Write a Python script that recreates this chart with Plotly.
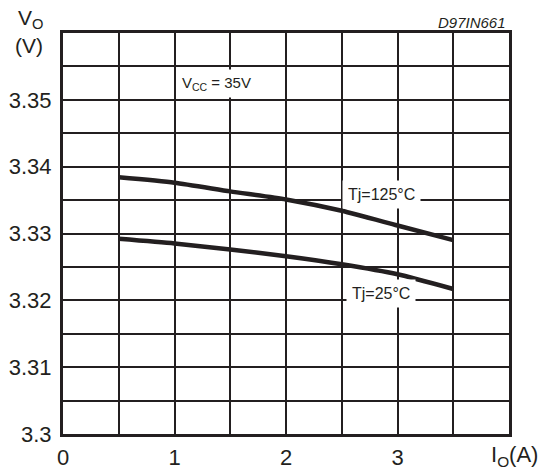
import plotly.graph_objects as go

# Data
io_a = [0.5, 1.0, 1.5, 2.0, 2.5, 3.0, 3.5]
vo_125 = [3.3384, 3.3376, 3.3363, 3.3351, 3.3334, 3.3312, 3.3290]
vo_25 = [3.3292, 3.3285, 3.3276, 3.3266, 3.3254, 3.3239, 3.3217]

x_grid = [0, 0.5, 1, 1.5, 2, 2.5, 3, 3.5, 4]
x_text = ["0", "", "1", "", "2", "", "3", "", ""]
y_grid = [3.300, 3.305, 3.310, 3.315, 3.320, 3.325, 3.330, 3.335, 3.340, 3.345, 3.350, 3.355, 3.360]
y_text = ["3.3", "", "3.31", "", "3.32", "", "3.33", "", "3.34", "", "3.35", "", ""]

INK = "#231f20"
FONT = "Liberation Sans, Arial, sans-serif"

L, R, T, B = 63, 35, 33, 40
PW, PH = 544 - L - R, 474 - T - B


def px(xp):
    return (xp - L) / PW


def py(yp):
    return (474 - B - yp) / PH


fig = go.Figure()
for ys in (vo_125, vo_25):
    fig.add_trace(go.Scatter(x=io_a, y=ys, mode="lines",
                             line=dict(color=INK, width=4.5, shape="spline", smoothing=0.6),
                             showlegend=False, hoverinfo="skip"))

fig.update_layout(
    width=544, height=474,
    margin=dict(l=L, r=R, t=T, b=B, autoexpand=False),
    paper_bgcolor="white", plot_bgcolor="white",
    font=dict(family=FONT, color=INK),
    xaxis=dict(range=[0, 4], tickvals=x_grid, ticktext=x_text, showgrid=True,
               gridcolor=INK, gridwidth=2, zeroline=False, showline=True, linecolor=INK,
               linewidth=3, mirror=True, ticks="", tickfont=dict(size=22, family=FONT, color=INK),
               ticklabelstandoff=2, automargin=False),
    yaxis=dict(range=[3.3, 3.36], tickvals=y_grid, ticktext=y_text, showgrid=True,
               gridcolor=INK, gridwidth=2, zeroline=False, showline=True, linecolor=INK,
               linewidth=3, mirror=True, ticks="", tickfont=dict(size=22, family=FONT, color=INK),
               ticklabelstandoff=4, automargin=False),
)

# Curve labels with white background
fig.add_annotation(x=2.86, y=3.3358, text="Tj=125°C", showarrow=False,
                   font=dict(size=16, family=FONT, color=INK), bgcolor="white", borderpad=5)
fig.add_annotation(x=2.85, y=3.3210, text="Tj=25°C", showarrow=False,
                   font=dict(size=16, family=FONT, color=INK), bgcolor="white", borderpad=5)
fig.add_annotation(x=1.38, y=3.3525, text="V<sub>CC</sub> = 35V", showarrow=False,
                   font=dict(size=15, family=FONT, color=INK), bgcolor="white", borderpad=4)

# Axis titles and code
fig.add_annotation(xref="paper", yref="paper", x=px(30), y=py(19), text="V<sub>O</sub>",
                   showarrow=False, xanchor="center", yanchor="middle",
                   font=dict(size=21, family=FONT, color=INK))
fig.add_annotation(xref="paper", yref="paper", x=px(29), y=py(45), text="(V)",
                   showarrow=False, xanchor="center", yanchor="middle",
                   font=dict(size=21, family=FONT, color=INK))
fig.add_annotation(xref="paper", yref="paper", x=px(508), y=py(22), text="<i>D97IN661</i>",
                   showarrow=False, xanchor="right", yanchor="middle",
                   font=dict(size=15, family=FONT, color=INK))
fig.add_annotation(xref="paper", yref="paper", x=px(514), y=py(456), text="I<sub>O</sub>(A)",
                   showarrow=False, xanchor="center", yanchor="middle",
                   font=dict(size=22, family=FONT, color=INK))

fig.write_html("out.html", config={"displayModeBar": False},
               post_script="document.body.style.margin='0';document.body.style.overflow='hidden';")
